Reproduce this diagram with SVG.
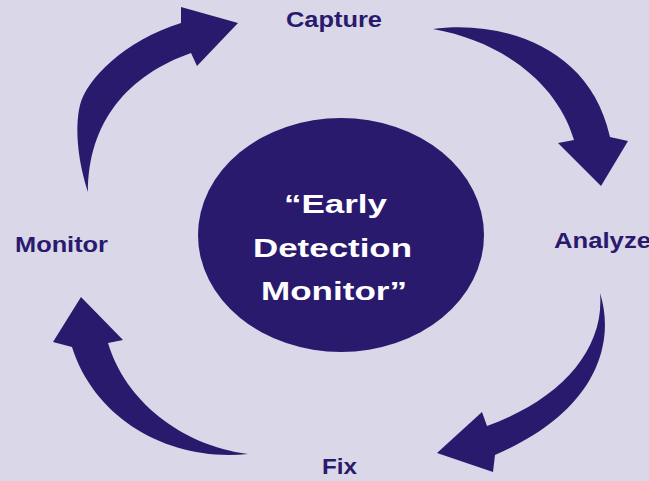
<svg xmlns="http://www.w3.org/2000/svg" width="649" height="481" viewBox="0 0 649 481">
  <style>
    .bg { fill: #dad7e8; }
    .arrow { fill: #2a1a6e; stroke: none; }
    .hub { fill: #2a1a6e; }
    .label { font-family: "Liberation Sans", Arial, sans-serif; font-weight: bold; font-size: 22px; fill: #2a1a6e; }
    .hubtext { font-family: "Liberation Sans", Arial, sans-serif; font-weight: bold; font-size: 26px; fill: #ffffff; }
  </style>
  <rect class="bg" x="0" y="0" width="649" height="481"/>
  <g id="connectors">
    <path class="arrow" d="M88,192 C79,165 74,130 80,105 C86,80 125,40 181,23 L181,7 L238,23 L197,66 L191,53 C128,75 88,122 88,192 Z"/>
    <path class="arrow" d="M433,29 C500,20 590,45 610,137 L628,141 L601,186 L558,143 L574,140 C558,85 505,42 433,29 Z"/>
    <path class="arrow" d="M600,293 C615,340 600,410 495,455 L493,472 L437,453 L482,412 L487,426 C560,400 605,350 600,293 Z"/>
    <path class="arrow" d="M248,454 C170,462 95,420 72,347 L53,342 L81,297 L123,340 L108,343 C125,400 180,445 248,454 Z"/>
  </g>
  <g id="hub">
    <ellipse class="hub" cx="341" cy="235" rx="143" ry="117"/>
    <text class="hubtext" x="284" y="213" textLength="103" lengthAdjust="spacingAndGlyphs">“Early</text>
    <text class="hubtext" x="253" y="257" textLength="159" lengthAdjust="spacingAndGlyphs">Detection</text>
    <text class="hubtext" x="261" y="300" textLength="146" lengthAdjust="spacingAndGlyphs">Monitor”</text>
  </g>
  <g id="capture">
    <text class="label" x="286" y="27" textLength="96" lengthAdjust="spacingAndGlyphs">Capture</text>
  </g>
  <g id="analyze">
    <text class="label" x="554" y="248" textLength="97" lengthAdjust="spacingAndGlyphs">Analyze</text>
  </g>
  <g id="fix">
    <text class="label" x="322" y="474" textLength="35" lengthAdjust="spacingAndGlyphs">Fix</text>
  </g>
  <g id="monitor">
    <text class="label" x="15" y="252" textLength="93" lengthAdjust="spacingAndGlyphs">Monitor</text>
  </g>
</svg>
